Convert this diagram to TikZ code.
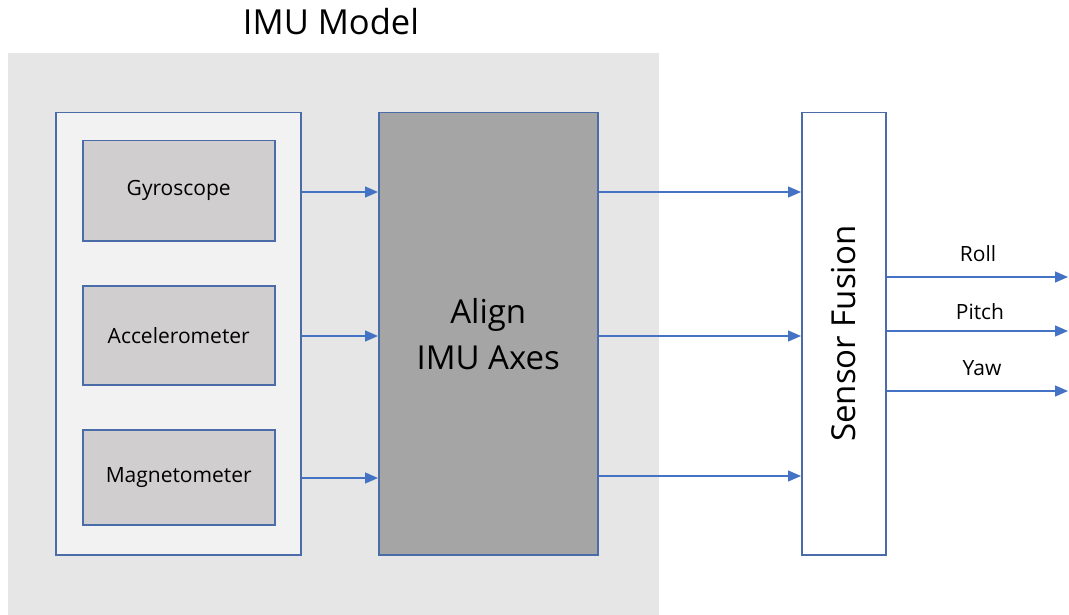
\documentclass[tikz,border=0pt]{standalone}
\usepackage{fontspec}
\setmainfont{Open Sans}
\usetikzlibrary{arrows.meta,calc}
\definecolor{bggray}{HTML}{E6E6E6}
\definecolor{outerfill}{HTML}{F2F2F2}
\definecolor{innerfill}{HTML}{D0CECE}
\definecolor{alignfill}{HTML}{A5A5A5}
\definecolor{edgeblue}{HTML}{4A6CA8}
\definecolor{arrowblue}{HTML}{4472C4}
\tikzset{
  blockbox/.style={draw=edgeblue, line width=1.5pt, rectangle, inner sep=0pt, anchor=north west},
  flowarrow/.style={draw=arrowblue, line width=1.3pt, -{Triangle[length=13pt,width=11pt]}},
  smalltext/.style={font=\fontsize{21}{24}\selectfont},
  bigtext/.style={font=\fontsize{33}{46}\selectfont, align=center},
}
\begin{document}
\begin{tikzpicture}[x=1pt,y=-1pt]
\useasboundingbox (0,0) rectangle (1069,615);
\fill[bggray] (8,53) rectangle (659,615);
\node[font=\fontsize{34.5}{40}\selectfont, anchor=base] (title) at (331,35) {IMU Model};

\node[blockbox, fill=outerfill, minimum width=245pt, minimum height=442pt] (outer) at (55,112) {};
\node[blockbox, fill=innerfill, minimum width=192pt, minimum height=100pt, smalltext] (gyro) at (82,140) {Gyroscope};
\node[blockbox, fill=innerfill, minimum width=192pt, minimum height=99pt, smalltext] (accel) at (82,285) {Accelerometer};
\node[blockbox, fill=innerfill, minimum width=192pt, minimum height=95pt, smalltext] (magneto) at (82,429) {Magnetometer};
\node[blockbox, fill=alignfill, minimum width=219pt, minimum height=442pt, bigtext] (align) at (378,112) {Align\\IMU Axes};
\node[blockbox, fill=white, minimum width=84pt, minimum height=442pt] (sf) at (801,112) {};
\node[bigtext, rotate=90] (sflabel) at (sf.center) {Sensor Fusion};

\coordinate (r1) at (1068,277);
\coordinate (r2) at (1068,331);
\coordinate (r3) at (1068,391);

\draw[flowarrow] (outer.east |- 0,192) -- (align.west |- 0,192);
\draw[flowarrow] (outer.east |- 0,336) -- (align.west |- 0,336);
\draw[flowarrow] (outer.east |- 0,478) -- (align.west |- 0,478);
\draw[flowarrow] (align.east |- 0,192) -- (sf.west |- 0,192);
\draw[flowarrow] (align.east |- 0,336) -- (sf.west |- 0,336);
\draw[flowarrow] (align.east |- 0,476) -- (sf.west |- 0,476);
\draw[flowarrow] (sf.east |- r1) -- (r1);
\draw[flowarrow] (sf.east |- r2) -- (r2);
\draw[flowarrow] (sf.east |- r3) -- (r3);

\node[smalltext] (roll) at (978,254) {Roll};
\node[smalltext] (pitch) at (980,312) {Pitch};
\node[smalltext] (yaw) at (982,368) {Yaw};
\end{tikzpicture}
\end{document}
